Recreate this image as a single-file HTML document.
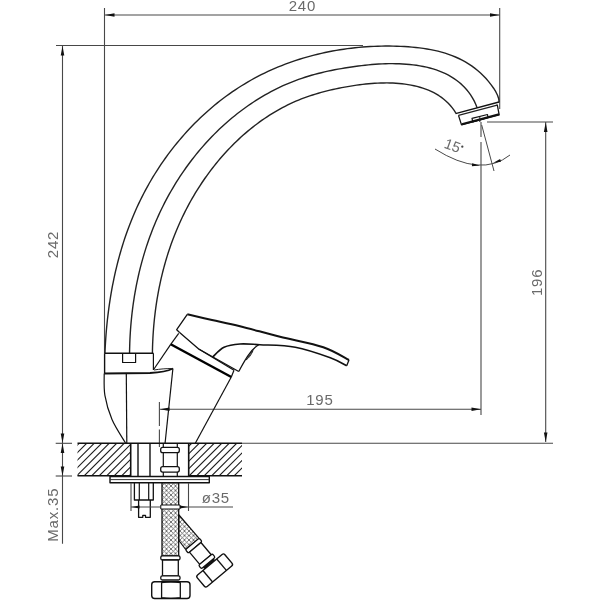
<!DOCTYPE html>
<html><head><meta charset="utf-8"><style>
html,body{margin:0;padding:0;background:#fff;width:600px;height:600px;overflow:hidden}
svg{display:block;filter:grayscale(1)}
text{font-family:"Liberation Sans",sans-serif}
</style></head><body>
<svg width="600" height="600" viewBox="0 0 600 600" stroke-linecap="butt" stroke-linejoin="round">
<line x1="104.5" y1="8.0" x2="104.5" y2="353.3" stroke="#484848" stroke-width="1.1"/>
<line x1="499.7" y1="8.0" x2="499.7" y2="109.0" stroke="#484848" stroke-width="1.1"/>
<line x1="104.5" y1="15.0" x2="499.7" y2="15.0" stroke="#484848" stroke-width="1.1"/>
<path d="M105.0,15.0 L114.5,13.2 L114.5,16.8 Z" fill="#111"/>
<path d="M499.5,15.0 L490.0,16.8 L490.0,13.2 Z" fill="#111"/>
<text x="302.35" y="10.50" font-size="15" letter-spacing="0.8" fill="#6a6a6a" text-anchor="middle">240</text>
<line x1="56.0" y1="45.5" x2="363.0" y2="45.5" stroke="#484848" stroke-width="1.1"/>
<line x1="62.5" y1="46.0" x2="62.5" y2="543.7" stroke="#484848" stroke-width="1.1"/>
<path d="M62.5,46.0 L64.3,55.5 L60.7,55.5 Z" fill="#111"/>
<text x="58.00" y="244.50" font-size="15" letter-spacing="0.8" fill="#6a6a6a" text-anchor="middle" transform="rotate(-90 58.0 244.5)">242</text>
<line x1="487.0" y1="122.0" x2="553.0" y2="122.0" stroke="#484848" stroke-width="1.1"/>
<line x1="545.7" y1="122.0" x2="545.7" y2="442.0" stroke="#484848" stroke-width="1.1"/>
<path d="M545.7,122.5 L547.5,132.0 L543.9,132.0 Z" fill="#111"/>
<path d="M545.7,442.0 L543.9,432.5 L547.5,432.5 Z" fill="#111"/>
<text x="541.70" y="282.30" font-size="15" letter-spacing="0.8" fill="#6a6a6a" text-anchor="middle" transform="rotate(-90 541.7 282.3)">196</text>
<line x1="481.0" y1="122.0" x2="481.0" y2="137.0" stroke="#484848" stroke-width="1.1"/>
<line x1="481.0" y1="142.0" x2="481.0" y2="415.0" stroke="#484848" stroke-width="1.1"/>
<line x1="160.0" y1="409.3" x2="481.0" y2="409.3" stroke="#484848" stroke-width="1.1"/>
<path d="M160.0,409.3 L169.5,407.5 L169.5,411.1 Z" fill="#111"/>
<path d="M481.0,409.3 L471.5,411.1 L471.5,407.5 Z" fill="#111"/>
<text x="319.85" y="404.50" font-size="15" letter-spacing="0.8" fill="#6a6a6a" text-anchor="middle">195</text>
<line x1="159.4" y1="402.0" x2="159.4" y2="426.0" stroke="#484848" stroke-width="1.1"/>
<line x1="159.4" y1="429.5" x2="159.4" y2="447.0" stroke="#484848" stroke-width="1.1"/>
<line x1="242.0" y1="443.3" x2="553.0" y2="443.3" stroke="#484848" stroke-width="1.1"/>
<path d="M481.7,125 L494,171" stroke="#484848" stroke-width="1" fill="none" />
<path d="M435,149 Q481,178 510,155" stroke="#484848" stroke-width="1" fill="none" />
<path d="M480.0,165.5 L471.9,166.2 L472.2,163.2 Z" fill="#111"/>
<path d="M493.0,163.0 L500.1,158.9 L501.0,161.8 Z" fill="#111"/>
<text x="443.2" y="147.6" font-size="14.5" fill="#6a6a6a" transform="rotate(20 443.2 147.6)">15</text>
<circle cx="462.3" cy="146.7" r="1.15" fill="#444"/>
<path d="M104.93,353.26 L105.09,349.52 L105.29,345.77 L105.51,342.03 L105.76,338.28 L106.04,334.53 L106.34,330.78 L106.68,327.03 L107.05,323.29 L107.44,319.54 L107.87,315.80 L108.33,312.06 L108.82,308.32 L109.34,304.59 L109.90,300.86 L110.49,297.13 L111.11,293.41 L111.76,289.69 L112.45,285.99 L113.18,282.28 L113.93,278.59 L114.73,274.90 L115.56,271.22 L116.43,267.55 L117.33,263.89 L118.27,260.24 L119.25,256.60 L120.26,252.97 L121.31,249.36 L122.41,245.75 L123.54,242.16 L124.71,238.58 L125.92,235.01 L127.17,231.46 L128.46,227.92 L129.80,224.40 L131.17,220.89 L132.59,217.40 L134.05,213.92 L135.55,210.47 L137.10,207.03 L138.69,203.61 L140.32,200.21 L142.00,196.82 L143.72,193.46 L145.49,190.12 L147.30,186.80 L149.15,183.50 L151.05,180.23 L152.99,176.98 L154.97,173.75 L156.99,170.55 L159.06,167.37 L161.16,164.22 L163.31,161.10 L165.49,158.01 L167.72,154.94 L169.98,151.91 L172.29,148.90 L174.63,145.93 L177.01,142.99 L179.43,140.08 L181.89,137.20 L184.38,134.36 L186.92,131.55 L189.48,128.78 L192.09,126.04 L194.73,123.34 L197.41,120.68 L200.12,118.06 L202.86,115.47 L205.65,112.93 L208.46,110.42 L211.31,107.96 L214.19,105.54 L217.11,103.16 L220.06,100.82 L223.04,98.53 L226.05,96.29 L229.09,94.08 L232.17,91.93 L235.27,89.82 L238.41,87.76 L241.58,85.75 L244.78,83.79 L248.00,81.87 L251.26,80.01 L254.54,78.20 L257.85,76.44 L261.19,74.73 L264.56,73.07 L267.95,71.47 L271.36,69.91 L274.80,68.40 L278.27,66.95 L281.75,65.54 L285.26,64.18 L288.79,62.88 L292.33,61.62 L295.90,60.41 L299.49,59.25 L303.09,58.15 L306.72,57.09 L310.35,56.08 L314.01,55.12 L317.68,54.21 L321.36,53.35 L325.06,52.53 L328.77,51.77 L332.49,51.05 L336.22,50.39 L339.96,49.77 L343.71,49.20 L347.47,48.67 L351.24,48.20 L355.02,47.77 L358.80,47.39 L362.59,47.06 L366.38,46.78 L370.18,46.54 L373.98,46.36 L377.79,46.22 L381.59,46.12 L385.40,46.07 L389.21,46.07 L393.02,46.12 L396.82,46.21 L400.63,46.35 L404.43,46.54 L408.23,46.78 L412.01,47.08 L415.79,47.44 L419.54,47.87 L423.28,48.36 L426.99,48.94 L430.68,49.60 L434.34,50.35 L437.96,51.19 L441.55,52.14 L445.10,53.18 L448.60,54.33 L452.06,55.60 L455.47,56.99 L458.82,58.50 L462.12,60.14 L465.35,61.92 L468.52,63.83 L471.63,65.89 L474.66,68.11 L477.62,70.47 L480.50,73.00 L483.30,75.69 L486.02,78.56 L488.65,81.60 L491.19,84.82 L493.61,88.22 L495.77,91.73 L497.53,95.29 L498.71,98.83 L499.16,102.28" stroke="#222" stroke-width="1.4" fill="none" />
<path d="M129.55,353.30 L129.60,349.91 L129.68,346.52 L129.79,343.13 L129.92,339.75 L130.09,336.36 L130.29,332.97 L130.51,329.59 L130.77,326.21 L131.06,322.83 L131.38,319.45 L131.72,316.08 L132.10,312.71 L132.51,309.35 L132.95,305.99 L133.42,302.63 L133.93,299.28 L134.46,295.93 L135.03,292.60 L135.63,289.26 L136.26,285.94 L136.92,282.62 L137.62,279.30 L138.35,276.00 L139.11,272.70 L139.90,269.41 L140.73,266.14 L141.59,262.87 L142.49,259.60 L143.42,256.35 L144.38,253.11 L145.38,249.88 L146.41,246.66 L147.48,243.45 L148.58,240.26 L149.72,237.07 L150.89,233.90 L152.09,230.74 L153.34,227.59 L154.62,224.46 L155.93,221.34 L157.28,218.24 L158.66,215.14 L160.09,212.07 L161.55,209.01 L163.04,205.96 L164.58,202.93 L166.15,199.92 L167.75,196.92 L169.40,193.94 L171.08,190.98 L172.80,188.04 L174.55,185.12 L176.34,182.21 L178.16,179.33 L180.03,176.47 L181.92,173.63 L183.85,170.81 L185.81,168.02 L187.81,165.25 L189.85,162.50 L191.91,159.78 L194.01,157.09 L196.14,154.42 L198.31,151.78 L200.50,149.17 L202.73,146.59 L204.99,144.04 L207.28,141.51 L209.61,139.02 L211.96,136.56 L214.34,134.13 L216.76,131.73 L219.20,129.37 L221.68,127.04 L224.18,124.74 L226.71,122.48 L229.27,120.26 L231.86,118.07 L234.48,115.92 L237.13,113.81 L239.80,111.74 L242.50,109.70 L245.23,107.71 L247.98,105.76 L250.77,103.85 L253.57,101.98 L256.41,100.15 L259.26,98.37 L262.15,96.63 L265.06,94.93 L267.99,93.28 L270.95,91.68 L273.93,90.12 L276.93,88.61 L279.96,87.15 L283.02,85.73 L286.09,84.37 L289.19,83.06 L292.31,81.79 L295.45,80.58 L298.61,79.42 L301.80,78.31 L305.00,77.26 L308.23,76.25 L311.47,75.29 L314.73,74.38 L318.01,73.52 L321.31,72.70 L324.61,71.91 L327.93,71.17 L331.27,70.47 L334.61,69.80 L337.96,69.17 L341.32,68.57 L344.69,68.00 L348.07,67.45 L351.46,66.94 L354.84,66.46 L358.24,66.00 L361.63,65.58 L365.04,65.19 L368.44,64.84 L371.86,64.53 L375.27,64.26 L378.69,64.04 L382.12,63.87 L385.55,63.74 L388.98,63.67 L392.42,63.65 L395.86,63.69 L399.30,63.79 L402.75,63.96 L406.19,64.18 L409.63,64.48 L413.06,64.86 L416.47,65.31 L419.86,65.85 L423.23,66.47 L426.55,67.19 L429.84,68.01 L433.09,68.92 L436.28,69.95 L439.42,71.08 L442.50,72.33 L445.51,73.70 L448.45,75.19 L451.31,76.81 L454.09,78.56 L456.78,80.45 L459.37,82.48 L461.85,84.65 L464.22,86.97 L466.48,89.45 L468.61,92.07 L470.60,94.86 L472.45,97.80 L474.16,100.92 L475.71,104.20 L477.10,107.65" stroke="#222" stroke-width="1.4" fill="none" />
<path d="M152.40,353.33 L152.46,350.32 L152.53,347.30 L152.63,344.29 L152.76,341.28 L152.90,338.27 L153.07,335.26 L153.27,332.26 L153.49,329.26 L153.73,326.27 L154.00,323.27 L154.29,320.28 L154.61,317.30 L154.95,314.32 L155.31,311.34 L155.71,308.37 L156.12,305.40 L156.57,302.44 L157.04,299.48 L157.53,296.53 L158.05,293.59 L158.60,290.65 L159.17,287.71 L159.77,284.78 L160.39,281.86 L161.04,278.95 L161.72,276.04 L162.43,273.14 L163.16,270.25 L163.92,267.37 L164.71,264.49 L165.52,261.62 L166.37,258.76 L167.24,255.91 L168.13,253.07 L169.06,250.24 L170.01,247.41 L171.00,244.60 L172.01,241.79 L173.05,239.00 L174.12,236.21 L175.21,233.44 L176.34,230.67 L177.50,227.92 L178.68,225.18 L179.90,222.45 L181.14,219.73 L182.42,217.02 L183.72,214.33 L185.05,211.64 L186.42,208.97 L187.81,206.31 L189.24,203.67 L190.70,201.03 L192.18,198.41 L193.70,195.81 L195.25,193.21 L196.83,190.64 L198.44,188.08 L200.08,185.53 L201.74,183.01 L203.44,180.50 L205.17,178.00 L206.92,175.53 L208.71,173.08 L210.52,170.65 L212.37,168.24 L214.24,165.85 L216.13,163.48 L218.06,161.14 L220.01,158.82 L221.99,156.53 L224.00,154.26 L226.04,152.01 L228.10,149.80 L230.19,147.61 L232.30,145.44 L234.44,143.31 L236.61,141.21 L238.80,139.13 L241.02,137.09 L243.26,135.08 L245.53,133.10 L247.82,131.15 L250.14,129.23 L252.48,127.35 L254.85,125.51 L257.24,123.70 L259.65,121.92 L262.09,120.18 L264.55,118.48 L267.04,116.82 L269.54,115.19 L272.07,113.61 L274.63,112.06 L277.20,110.56 L279.80,109.10 L282.42,107.68 L285.06,106.30 L287.72,104.96 L290.40,103.67 L293.11,102.43 L295.83,101.23 L298.58,100.07 L301.34,98.96 L304.13,97.90 L306.93,96.88 L309.76,95.90 L312.60,94.97 L315.45,94.08 L318.32,93.22 L321.21,92.40 L324.10,91.62 L327.02,90.88 L329.94,90.17 L332.87,89.50 L335.82,88.85 L338.77,88.24 L341.74,87.66 L344.71,87.11 L347.69,86.59 L350.67,86.09 L353.66,85.62 L356.66,85.18 L359.66,84.77 L362.66,84.39 L365.67,84.05 L368.68,83.75 L371.70,83.49 L374.72,83.28 L377.74,83.11 L380.77,83.00 L383.80,82.93 L386.82,82.92 L389.86,82.97 L392.89,83.07 L395.92,83.24 L398.95,83.48 L401.99,83.78 L405.02,84.15 L408.04,84.60 L411.05,85.12 L414.03,85.73 L416.99,86.43 L419.92,87.22 L422.81,88.11 L425.65,89.10 L428.44,90.19 L431.18,91.40 L433.85,92.72 L436.46,94.16 L438.99,95.72 L441.45,97.41 L443.81,99.23 L446.09,101.19 L448.27,103.28 L450.34,105.53 L452.31,107.92 L454.16,110.46 L455.89,113.16" stroke="#222" stroke-width="1.4" fill="none" />
<path d="M455.5,113.6 L499.0,102.0" stroke="#111" stroke-width="1.3" fill="none" />
<path d="M458.5,115.4 L497.2,105.1" stroke="#222" stroke-width="1.2" fill="none" />
<path d="M458.5,115.4 L461.5,124.9 L499.2,114.9 L497.2,104.5" stroke="#111" stroke-width="1.3" fill="none" />
<path d="M461.8,124.2 L499.0,114.3" stroke="#111" stroke-width="2.0" fill="none" />
<path d="M472.0,118.4 L472.8,121.8 L488.0,117.5 L487.5,114.5 Z" stroke="#111" stroke-width="1.2" fill="none" />
<line x1="479.8" y1="116.5" x2="479.8" y2="122.0" stroke="#222" stroke-width="1"/>
<path d="M104.6,353.3 L153.4,353.3" stroke="#111" stroke-width="1.4" fill="none" />
<path d="M104.6,353.3 L104.6,373.5" stroke="#111" stroke-width="1.4" fill="none" />
<path d="M153.4,353.3 L153.4,370.0" stroke="#111" stroke-width="1.2" fill="none" />
<path d="M122.6,353.3 L122.6,362.5 L135.6,362.5 L135.6,353.3" stroke="#111" stroke-width="1.2" fill="none" />
<path d="M104.2,373.5 L150,373 C160,372.5 168,371 172.9,368.5" stroke="#111" stroke-width="1.8" fill="none" />
<path d="M154,370 C160,369 166,368.5 172.9,368.5" stroke="#222" stroke-width="1" fill="none" />
<path d="M104.2,373.5 C104.3,377.1 103.6,387.7 104.9,395.4 C106.2,403.1 108.6,411.6 112.0,419.5 C115.4,427.4 123.2,439.1 125.5,443.0" stroke="#111" stroke-width="1.2" fill="none" />
<line x1="126.3" y1="373.5" x2="126.8" y2="443.0" stroke="#111" stroke-width="1.2"/>
<line x1="172.9" y1="368.5" x2="165.1" y2="443.0" stroke="#111" stroke-width="1.2"/>
<line x1="231.3" y1="377.0" x2="195.3" y2="443.3" stroke="#111" stroke-width="1.2"/>
<line x1="170.7" y1="344.3" x2="154.0" y2="369.0" stroke="#111" stroke-width="1.2"/>
<path d="M178.7,333.3 L170.7,344.3" stroke="#111" stroke-width="1.2" fill="none" />
<path d="M170.7,344.3 L231.3,377.0" stroke="#000" stroke-width="2.4" fill="none" />
<path d="M198.7,349.0 L234.0,370.3" stroke="#111" stroke-width="1.2" fill="none" />
<path d="M234.0,370.3 L231.3,377.0" stroke="#111" stroke-width="1.2" fill="none" />
<path d="M179.3,332.3 L176.7,329.7 L187.3,314.3" stroke="#111" stroke-width="1.3" fill="none" />
<path d="M187.3,314.3 C191.4,315.2 203.2,318.0 212.0,320.0 C220.8,322.0 228.7,323.5 240.0,326.3 C251.3,329.1 266.1,333.2 280.0,336.7 C293.9,340.2 311.8,343.3 323.3,347.2 C334.8,351.1 344.7,357.9 349.0,360.0" stroke="#111" stroke-width="2.0" fill="none" />
<path d="M349,360 L346.7,365.8" stroke="#111" stroke-width="1.3" fill="none" />
<path d="M346.7,365.8 C344.0,364.4 338.9,360.8 330.3,357.7 C321.7,354.6 307.0,349.4 295.3,347.2 C283.6,345.0 269.2,345.2 260.0,344.7 C250.8,344.2 246.0,343.6 240.0,344.0 C234.0,344.4 228.6,345.1 224.0,347.3 C219.4,349.5 214.6,355.4 212.7,357.0" stroke="#111" stroke-width="1.6" fill="none" />
<path d="M179.3,332.3 L198.7,349.0 L238.7,371.5" stroke="#111" stroke-width="1.3" fill="none" />
<path d="M258.7,344.7 C250,350 244,362 238.7,371.5" stroke="#111" stroke-width="1.3" fill="none" />
<path d="M246,360 C249,356 252,352 253,350.7 C251,355 249,358 246,360 Z" stroke="#222" stroke-width="1" fill="none" />
<defs><clipPath id="ctL"><rect x="77.5" y="443.3" width="53" height="32.5"/></clipPath><clipPath id="ctR"><rect x="188.7" y="443.3" width="53.3" height="32.5"/></clipPath></defs>
<path d="M20.0,480.0 L60.0,440.0 M27.5,480.0 L67.5,440.0 M35.0,480.0 L75.0,440.0 M42.5,480.0 L82.5,440.0 M50.0,480.0 L90.0,440.0 M57.5,480.0 L97.5,440.0 M65.0,480.0 L105.0,440.0 M72.5,480.0 L112.5,440.0 M80.0,480.0 L120.0,440.0 M87.5,480.0 L127.5,440.0 M95.0,480.0 L135.0,440.0 M102.5,480.0 L142.5,440.0 M110.0,480.0 L150.0,440.0 M117.5,480.0 L157.5,440.0 M125.0,480.0 L165.0,440.0 M132.5,480.0 L172.5,440.0 M140.0,480.0 L180.0,440.0 M147.5,480.0 L187.5,440.0 M155.0,480.0 L195.0,440.0 M162.5,480.0 L202.5,440.0 M170.0,480.0 L210.0,440.0 M177.5,480.0 L217.5,440.0 M185.0,480.0 L225.0,440.0 M192.5,480.0 L232.5,440.0 M200.0,480.0 L240.0,440.0 M207.5,480.0 L247.5,440.0 M215.0,480.0 L255.0,440.0 M222.5,480.0 L262.5,440.0 M230.0,480.0 L270.0,440.0 M237.5,480.0 L277.5,440.0 M245.0,480.0 L285.0,440.0 M252.5,480.0 L292.5,440.0 M260.0,480.0 L300.0,440.0 M267.5,480.0 L307.5,440.0 M275.0,480.0 L315.0,440.0 M282.5,480.0 L322.5,440.0 M290.0,480.0 L330.0,440.0 M297.5,480.0 L337.5,440.0 M305.0,480.0 L345.0,440.0 M312.5,480.0 L352.5,440.0 M320.0,480.0 L360.0,440.0 M327.5,480.0 L367.5,440.0 M335.0,480.0 L375.0,440.0 M342.5,480.0 L382.5,440.0 M350.0,480.0 L390.0,440.0 M357.5,480.0 L397.5,440.0 M365.0,480.0 L405.0,440.0 M372.5,480.0 L412.5,440.0 M380.0,480.0 L420.0,440.0 M387.5,480.0 L427.5,440.0 M395.0,480.0 L435.0,440.0 M402.5,480.0 L442.5,440.0 M410.0,480.0 L450.0,440.0 M417.5,480.0 L457.5,440.0 M425.0,480.0 L465.0,440.0 M432.5,480.0 L472.5,440.0 M440.0,480.0 L480.0,440.0 M447.5,480.0 L487.5,440.0 M455.0,480.0 L495.0,440.0 M462.5,480.0 L502.5,440.0" stroke="#222" stroke-width="1.15" clip-path="url(#ctL)"/>
<path d="M20.0,480.0 L60.0,440.0 M27.5,480.0 L67.5,440.0 M35.0,480.0 L75.0,440.0 M42.5,480.0 L82.5,440.0 M50.0,480.0 L90.0,440.0 M57.5,480.0 L97.5,440.0 M65.0,480.0 L105.0,440.0 M72.5,480.0 L112.5,440.0 M80.0,480.0 L120.0,440.0 M87.5,480.0 L127.5,440.0 M95.0,480.0 L135.0,440.0 M102.5,480.0 L142.5,440.0 M110.0,480.0 L150.0,440.0 M117.5,480.0 L157.5,440.0 M125.0,480.0 L165.0,440.0 M132.5,480.0 L172.5,440.0 M140.0,480.0 L180.0,440.0 M147.5,480.0 L187.5,440.0 M155.0,480.0 L195.0,440.0 M162.5,480.0 L202.5,440.0 M170.0,480.0 L210.0,440.0 M177.5,480.0 L217.5,440.0 M185.0,480.0 L225.0,440.0 M192.5,480.0 L232.5,440.0 M200.0,480.0 L240.0,440.0 M207.5,480.0 L247.5,440.0 M215.0,480.0 L255.0,440.0 M222.5,480.0 L262.5,440.0 M230.0,480.0 L270.0,440.0 M237.5,480.0 L277.5,440.0 M245.0,480.0 L285.0,440.0 M252.5,480.0 L292.5,440.0 M260.0,480.0 L300.0,440.0 M267.5,480.0 L307.5,440.0 M275.0,480.0 L315.0,440.0 M282.5,480.0 L322.5,440.0 M290.0,480.0 L330.0,440.0 M297.5,480.0 L337.5,440.0 M305.0,480.0 L345.0,440.0 M312.5,480.0 L352.5,440.0 M320.0,480.0 L360.0,440.0 M327.5,480.0 L367.5,440.0 M335.0,480.0 L375.0,440.0 M342.5,480.0 L382.5,440.0 M350.0,480.0 L390.0,440.0 M357.5,480.0 L397.5,440.0 M365.0,480.0 L405.0,440.0 M372.5,480.0 L412.5,440.0 M380.0,480.0 L420.0,440.0 M387.5,480.0 L427.5,440.0 M395.0,480.0 L435.0,440.0 M402.5,480.0 L442.5,440.0 M410.0,480.0 L450.0,440.0 M417.5,480.0 L457.5,440.0 M425.0,480.0 L465.0,440.0 M432.5,480.0 L472.5,440.0 M440.0,480.0 L480.0,440.0 M447.5,480.0 L487.5,440.0 M455.0,480.0 L495.0,440.0 M462.5,480.0 L502.5,440.0" stroke="#222" stroke-width="1.15" clip-path="url(#ctR)"/>
<line x1="77.5" y1="443.3" x2="242.0" y2="443.3" stroke="#111" stroke-width="1.6"/>
<line x1="77.5" y1="475.8" x2="130.7" y2="475.8" stroke="#111" stroke-width="1.6"/>
<line x1="188.7" y1="475.8" x2="242.0" y2="475.8" stroke="#111" stroke-width="1.6"/>
<line x1="55.7" y1="443.3" x2="72.0" y2="443.3" stroke="#484848" stroke-width="1.1"/>
<line x1="55.7" y1="476.0" x2="72.0" y2="476.0" stroke="#484848" stroke-width="1.1"/>
<path d="M62.5,443.0 L60.7,433.5 L64.3,433.5 Z" fill="#111"/>
<path d="M62.5,443.6 L64.3,453.1 L60.7,453.1 Z" fill="#111"/>
<path d="M62.5,476.0 L60.7,466.5 L64.3,466.5 Z" fill="#111"/>
<text x="58.00" y="514.70" font-size="15" letter-spacing="0.8" fill="#6a6a6a" text-anchor="middle" transform="rotate(-90 58.0 514.7)">Max.35</text>
<line x1="130.7" y1="443.3" x2="130.7" y2="476.0" stroke="#111" stroke-width="1.6"/>
<line x1="138.0" y1="443.3" x2="138.0" y2="476.0" stroke="#111" stroke-width="1.4"/>
<line x1="150.0" y1="443.3" x2="150.0" y2="476.0" stroke="#111" stroke-width="1.4"/>
<line x1="188.7" y1="443.3" x2="188.7" y2="476.0" stroke="#111" stroke-width="1.6"/>
<path d="M110.0,476.5 L209.3,476.5 L209.3,482.7 L110.0,482.7 Z" stroke="#111" stroke-width="1.4" fill="none" />
<line x1="110.0" y1="479.6" x2="209.3" y2="479.6" stroke="#333" stroke-width="1"/>
<path d="M134.4,482.7 L134.4,500.0 L153.3,500.0 L153.3,482.7" stroke="#111" stroke-width="1.3" fill="none" />
<line x1="139.3" y1="482.7" x2="139.3" y2="500.0" stroke="#111" stroke-width="1.2"/>
<line x1="148.7" y1="482.7" x2="148.7" y2="500.0" stroke="#111" stroke-width="1.2"/>
<path d="M138.6,500.0 L138.6,517.3 L142.8,517.3 L142.8,515.3 L145.5,515.3 L145.5,517.3 L150.3,517.3 L150.3,500.0" stroke="#111" stroke-width="1.3" fill="none" />
<line x1="131.0" y1="483.0" x2="131.0" y2="511.0" stroke="#484848" stroke-width="1.1"/>
<line x1="188.5" y1="483.0" x2="188.5" y2="511.0" stroke="#484848" stroke-width="1.1"/>
<line x1="131.0" y1="507.0" x2="233.0" y2="507.0" stroke="#484848" stroke-width="1.1"/>
<path d="M131.5,507.0 L139.5,505.5 L139.5,508.5 Z" fill="#111"/>
<path d="M188.0,507.0 L180.0,508.5 L180.0,505.5 Z" fill="#111"/>
<text x="215.85" y="502.70" font-size="15" letter-spacing="0.8" fill="#6a6a6a" text-anchor="middle">ø35</text>
<path d="M163.3,443.3 L163.3,476.0" stroke="#111" stroke-width="1.2" fill="none" />
<path d="M177.3,443.3 L177.3,476.0" stroke="#111" stroke-width="1.2" fill="none" />
<rect x="160.7" y="447.3" width="18.6" height="5.4" rx="2" fill="#fff" stroke="#111" stroke-width="1.3"/>
<rect x="160.7" y="466.7" width="18.6" height="5.4" rx="2" fill="#fff" stroke="#111" stroke-width="1.3"/>
<defs><pattern id="br" width="4.5" height="4.5" patternUnits="userSpaceOnUse"><path d="M0,0 L4.5,4.5 M4.5,0 L0,4.5" stroke="#555" stroke-width="0.8"/></pattern></defs>
<rect x="162" y="482.7" width="16.7" height="73" fill="url(#br)" stroke="#111" stroke-width="1.3"/>
<rect x="160.8" y="505" width="19.2" height="4" fill="#fff" stroke="#111" stroke-width="1"/>
<rect x="160.8" y="555.8" width="19.2" height="4.2" rx="1.5" fill="#fff" stroke="#111" stroke-width="1.3"/>
<rect x="162.5" y="560" width="15.8" height="15.8" fill="#fff" stroke="#111" stroke-width="1.3"/>
<rect x="160.8" y="575.8" width="19.2" height="4.2" rx="1.5" fill="#fff" stroke="#111" stroke-width="1.3"/>
<rect x="151.7" y="581.7" width="38.3" height="16.8" rx="3" fill="#fff" stroke="#111" stroke-width="1.4"/>
<path d="M161.6,582.2 L161.6,598 M180.3,582.2 L180.3,598 M161.6,582.6 Q171,581 180.3,582.6 M161.6,597.6 Q171,599.2 180.3,597.6" fill="none" stroke="#111" stroke-width="1.3"/>
<path d="M178.75,514.75 L199.5,538.8 L185.5,549.25 L178.75,540.25 Z" fill="url(#br)" stroke="#111" stroke-width="1.2"/>
<g transform="translate(193.75,545.6) rotate(-40)"><rect x="-9" y="-2.25" width="18" height="4.5" rx="1.5" fill="#fff" stroke="#111" stroke-width="1.3"/><rect x="-7.5" y="2.25" width="15" height="16" fill="#fff" stroke="#111" stroke-width="1.3"/><rect x="-9" y="18.2" width="18" height="4.5" rx="1.5" fill="#fff" stroke="#111" stroke-width="1.3"/><line x1="-7" y1="23.8" x2="7" y2="23.8" stroke="#111" stroke-width="2.2"/><rect x="-18" y="25" width="36" height="15" rx="2" fill="#fff" stroke="#111" stroke-width="1.4"/><line x1="-9" y1="25" x2="-9" y2="40" stroke="#111" stroke-width="1.3"/><line x1="9" y1="25" x2="9" y2="40" stroke="#111" stroke-width="1.3"/></g>
</svg></body></html>
